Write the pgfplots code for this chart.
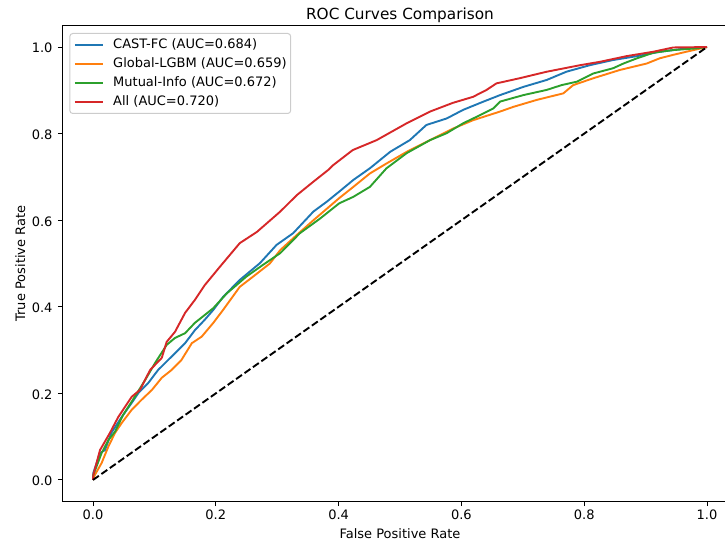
\documentclass[border=0pt]{standalone}
\usepackage{fontspec}
\setmainfont{DejaVu Sans}
\usepackage{pgfplots}
\pgfplotsset{compat=1.18}
\definecolor{cA}{HTML}{1F77B4}
\definecolor{cB}{HTML}{FF7F0E}
\definecolor{cC}{HTML}{2CA02C}
\definecolor{cD}{HTML}{D62728}
\definecolor{legedge}{HTML}{CCCCCC}
\begin{document}
\begin{tikzpicture}[x=1pt,y=1pt]
\begin{axis}[
  scale only axis, width=675.4pt, height=476.2pt,
  at={(62.3pt,41.4pt)}, anchor=south west,
  xmin=-0.05, xmax=1.05, ymin=-0.05, ymax=1.05,
  xtick={0,0.2,0.4,0.6,0.8,1.0}, ytick={0,0.2,0.4,0.6,0.8,1.0},
  /pgf/number format/assume math mode=true,
  /pgf/number format/fixed, /pgf/number format/fixed zerofill, /pgf/number format/precision=1,
  tick align=outside, tick pos=left,
  major tick length=4.5pt,
  every tick/.style={black, line width=1pt},
  axis line style={line width=1pt, black},
  ticklabel style={font=\fontsize{13}{15}\selectfont, inner sep=0pt},
  xticklabel style={anchor=base, yshift=-13.9pt},
  yticklabel style={anchor=east, xshift=-5.1pt, yshift=-1.2pt},
  title={ROC Curves Comparison},
  title style={font=\fontsize{15.3}{18}\selectfont, at={(axis description cs:0.5,1)}, anchor=base, yshift=-0.6pt, inner sep=0pt},
  xlabel={False Positive Rate},
  ylabel={True Positive Rate},
  label style={font=\fontsize{13}{15}\selectfont, inner sep=0pt},
  xlabel style={at={(axis description cs:0.5,-0.0785)}, anchor=base},
  ylabel style={at={(axis description cs:-0.0552,0.5)}, anchor=base},
  legend cell align=left,
  legend image code/.code={\draw[#1] (0pt,0pt) -- (28pt,0pt);},
  legend style={at={(0,1)}, anchor=north west, xshift=7pt, yshift=-7.6pt,
    draw=legedge, line width=1pt, rounded corners=3pt, fill=white, fill opacity=0.8, text opacity=1,
    font=\fontsize{13}{15}\selectfont, inner xsep=4pt, inner ysep=5.2pt,
    row sep=7.2pt, column sep=0pt,
    nodes={inner sep=0pt, text height=9.5pt, text depth=2.5pt}},
  every axis plot/.append style={line width=1.9pt, line join=round},
]
\addplot[cA] coordinates {
(0,0) (0.0005,0.016) (0.0114,0.062) (0.0195,0.069) (0.030,0.109) (0.047,0.146) (0.063,0.178)
(0.074,0.201) (0.090,0.224) (0.106,0.254) (0.128,0.285) (0.150,0.316) (0.166,0.346) (0.182,0.370)
(0.196,0.393) (0.212,0.423) (0.239,0.462) (0.272,0.501) (0.299,0.543) (0.326,0.570) (0.359,0.620)
(0.381,0.643) (0.401,0.666) (0.424,0.693) (0.451,0.720) (0.484,0.758) (0.516,0.785) (0.543,0.820)
(0.576,0.835) (0.603,0.855) (0.636,0.874) (0.663,0.889) (0.701,0.908) (0.739,0.924) (0.771,0.943)
(0.809,0.958) (0.847,0.970) (0.886,0.979) (0.923,0.989) (0.967,0.997) (1,1)
};
\addlegendentry{\hspace{9.5pt}CAST-FC (AUC=0.684)}
\addplot[cB] coordinates {
(0,0) (0.003,0.0115) (0.014,0.039) (0.025,0.077) (0.036,0.109) (0.047,0.132) (0.063,0.162)
(0.079,0.185) (0.096,0.208) (0.112,0.236) (0.128,0.254) (0.144,0.277) (0.161,0.316) (0.177,0.331)
(0.196,0.363) (0.212,0.393) (0.239,0.446) (0.261,0.470) (0.288,0.500) (0.305,0.531) (0.332,0.566)
(0.359,0.600) (0.401,0.651) (0.424,0.677) (0.451,0.708) (0.478,0.731) (0.511,0.758) (0.549,0.785)
(0.587,0.812) (0.619,0.831) (0.663,0.851) (0.685,0.862) (0.723,0.878) (0.766,0.893) (0.782,0.912)
(0.815,0.928) (0.858,0.947) (0.902,0.962) (0.923,0.974) (0.945,0.982) (0.972,0.991) (1,1)
};
\addlegendentry{\hspace{9.5pt}Global-LGBM (AUC=0.659)}
\addplot[cC] coordinates {
(0,0) (0.0005,0.0115) (0.014,0.062) (0.025,0.092) (0.036,0.112) (0.049,0.150) (0.068,0.192)
(0.085,0.231) (0.101,0.270) (0.120,0.312) (0.1335,0.328) (0.150,0.339) (0.166,0.363) (0.182,0.381)
(0.196,0.397) (0.218,0.431) (0.250,0.470) (0.277,0.497) (0.305,0.524) (0.337,0.570) (0.370,0.604)
(0.401,0.639) (0.424,0.654) (0.451,0.677) (0.478,0.720) (0.511,0.755) (0.549,0.785) (0.576,0.801)
(0.603,0.824) (0.625,0.839) (0.652,0.858) (0.663,0.874) (0.701,0.889) (0.739,0.901) (0.763,0.912)
(0.788,0.920) (0.815,0.939) (0.847,0.951) (0.864,0.962) (0.886,0.974) (0.913,0.987) (0.945,0.993)
(0.983,0.997) (1,1)
};
\addlegendentry{\hspace{9.5pt}Mutual-Info (AUC=0.672)}
\addplot[cD] coordinates {
(0,0) (0.0005,0.0115) (0.0114,0.069) (0.0277,0.109) (0.041,0.145) (0.063,0.192) (0.0765,0.208)
(0.093,0.254) (0.112,0.282) (0.120,0.319) (0.1335,0.342) (0.150,0.386) (0.166,0.416) (0.182,0.450)
(0.207,0.493) (0.239,0.547) (0.267,0.573) (0.305,0.620) (0.332,0.658) (0.359,0.689) (0.383,0.716)
(0.391,0.727) (0.423,0.762) (0.462,0.785) (0.511,0.824) (0.549,0.851) (0.586,0.871) (0.619,0.885)
(0.641,0.901) (0.657,0.916) (0.695,0.928) (0.739,0.943) (0.793,0.958) (0.826,0.966) (0.869,0.979)
(0.912,0.989) (0.945,0.999) (1,1)
};
\addlegendentry{\hspace{9.5pt}All (AUC=0.720)}
\addplot[black, dash pattern=on 7.2pt off 3.1pt, forget plot] coordinates {(0,0) (1,1)};
\end{axis}
\pgfresetboundingbox
\path[use as bounding box] (0,0) rectangle (725pt,543pt);
\end{tikzpicture}
\end{document}
